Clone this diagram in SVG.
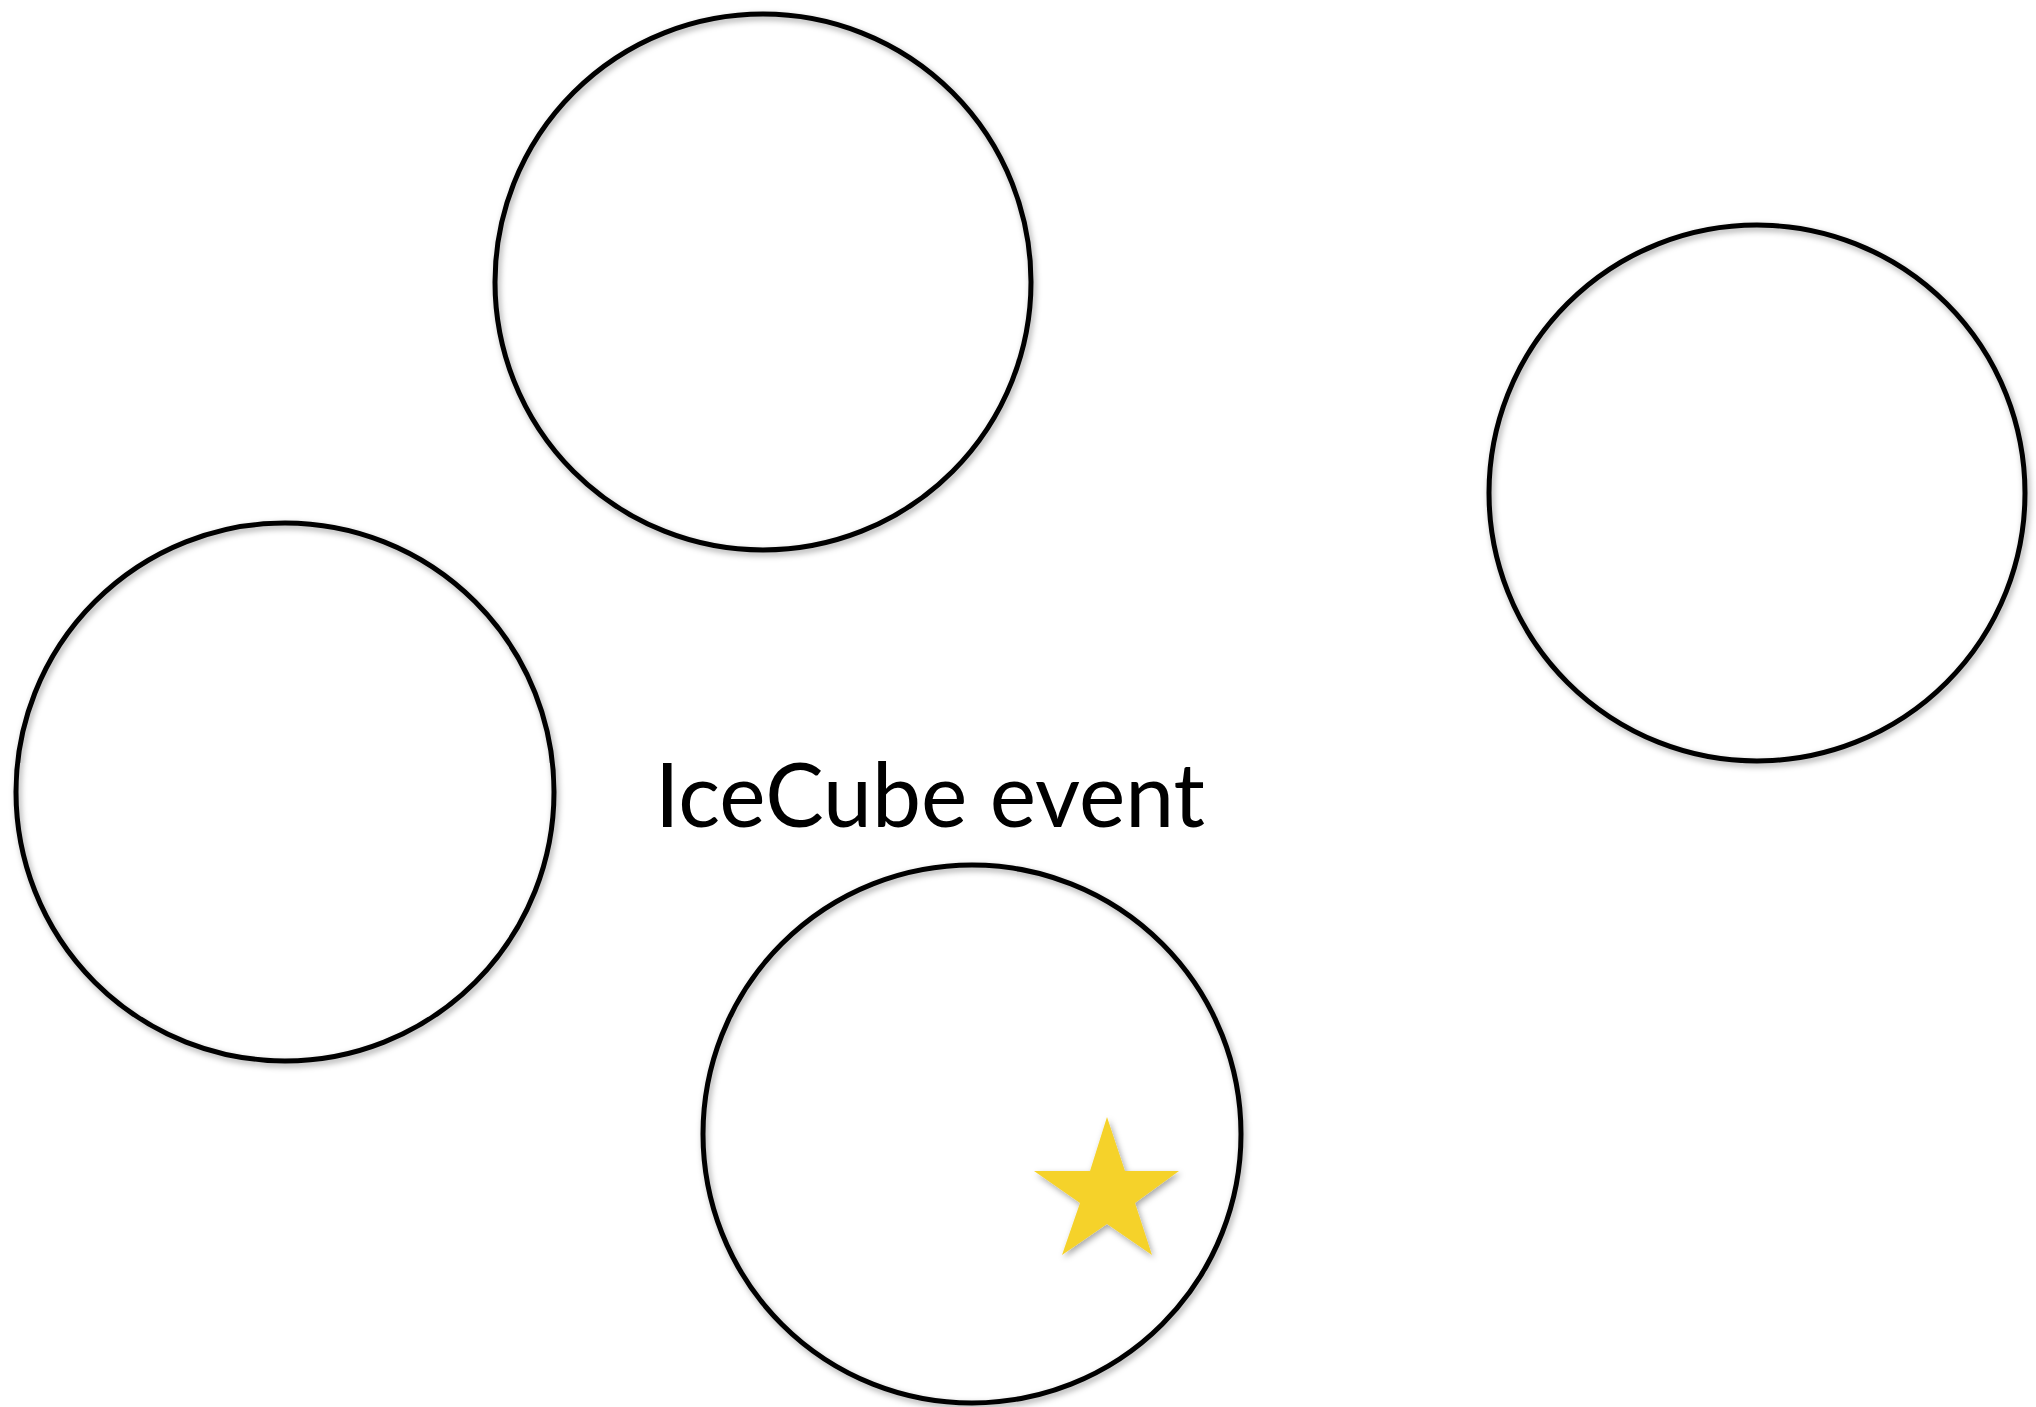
<svg xmlns="http://www.w3.org/2000/svg" width="2036" height="1407" viewBox="0 0 2036 1407">
<defs>
<filter id="shadow" x="-10%" y="-10%" width="120%" height="120%">
<feDropShadow dx="2" dy="3" stdDeviation="3" flood-color="#000" flood-opacity="0.35"/>
</filter>
<style>
.ring{fill:none;stroke:#000;stroke-width:5;filter:url(#shadow)}
.label{font-family:Lato,"Liberation Sans",sans-serif;font-size:90px;fill:#000}
.star{fill:#F5D22B;filter:url(#shadow)}
</style>
</defs>
<rect width="2036" height="1407" fill="#fff"/>
<g id="circle-top"><circle class="ring" cx="763" cy="282" r="268"/></g>
<g id="circle-right"><circle class="ring" cx="1757" cy="493" r="268"/></g>
<g id="circle-left"><circle class="ring" cx="285" cy="792" r="269"/></g>
<g id="circle-bottom"><circle class="ring" cx="972" cy="1134" r="269"/></g>
<g id="label"><text class="label" x="655" y="827" textLength="550" lengthAdjust="spacingAndGlyphs">IceCube event</text></g>
<g id="star"><polygon class="star" points="1107,1117 1125,1171 1179,1171 1135,1203 1152,1255 1107,1224 1062,1255 1080,1203 1034,1171 1090,1171"/></g>
<g id="connectors"></g>
</svg>
